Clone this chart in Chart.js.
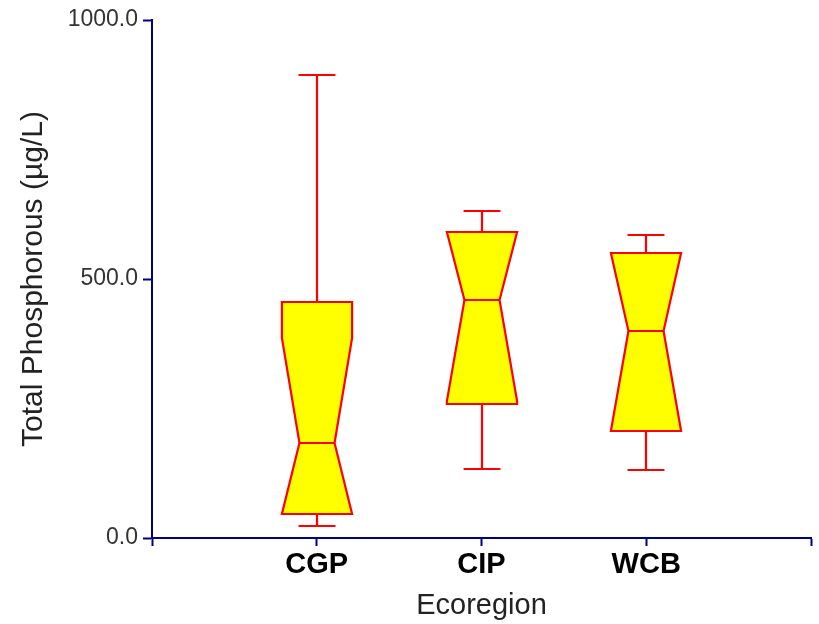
<!DOCTYPE html>
<html>
<head>
<meta charset="utf-8">
<script src="https://cdn.jsdelivr.net/npm/chart.js@4"></script>
<style>
  html, body { margin: 0; padding: 0; background: #ffffff; }
  #wrap { width: 819px; height: 624px; }
</style>
</head>
<body>
<div id="wrap"><canvas id="chart" width="819" height="624"></canvas></div>
<script>
// Ecoregions
const categories = ['CGP', 'CIP', 'WCB']
const mins = [23, 134, 132]
const q1s = [46, 258, 206]
const medians = [183, 460, 399]
const q3s = [455, 590, 550]
const maxs = [893, 632, 585]
// notch bounds (clipped at the box edges when they go past it)
const notchLow = [46, 265, 206]
const notchHigh = [387, 590, 550]
const yTicks = [0, 500, 1000]

const boxFill = '#ffff00'
const boxLine = '#ff0000'
const axisColor = '#000080'

// draws the notched boxes + whiskers using the chart's scales
const notchedBoxes = {
  id: 'notchedBoxes',
  afterDatasetsDraw(chart) {
    const { ctx, scales: { x, y } } = chart
    const step = x.getPixelForValue(1) - x.getPixelForValue(0)
    const hw = step * 0.213   // half box width
    const nw = hw * 0.5       // half width at the median
    const cw = step * 0.112   // half cap width

    ctx.save()
    ctx.lineWidth = 2.2
    ctx.strokeStyle = boxLine
    ctx.lineJoin = 'miter'

    categories.forEach((cat, i) => {
      const cx = Math.round(x.getPixelForValue(i + 1))
      const yMin = Math.round(y.getPixelForValue(mins[i]))
      const yQ1 = Math.round(y.getPixelForValue(q1s[i]))
      const yMed = Math.round(y.getPixelForValue(medians[i]))
      const yQ3 = Math.round(y.getPixelForValue(q3s[i]))
      const yMax = Math.round(y.getPixelForValue(maxs[i]))
      const yNL = Math.round(y.getPixelForValue(Math.max(q1s[i], notchLow[i])))
      const yNH = Math.round(y.getPixelForValue(Math.min(q3s[i], notchHigh[i])))

      // whiskers
      ctx.beginPath()
      ctx.moveTo(cx, yQ3); ctx.lineTo(cx, yMax)
      ctx.moveTo(cx - cw, yMax); ctx.lineTo(cx + cw, yMax)
      ctx.moveTo(cx, yQ1); ctx.lineTo(cx, yMin)
      ctx.moveTo(cx - cw, yMin); ctx.lineTo(cx + cw, yMin)
      ctx.stroke()

      // notched box
      ctx.beginPath()
      ctx.moveTo(cx - hw, yQ3)
      ctx.lineTo(cx + hw, yQ3)
      ctx.lineTo(cx + hw, yNH)
      ctx.lineTo(cx + nw, yMed)
      ctx.lineTo(cx + hw, yNL)
      ctx.lineTo(cx + hw, yQ1)
      ctx.lineTo(cx - hw, yQ1)
      ctx.lineTo(cx - hw, yNL)
      ctx.lineTo(cx - nw, yMed)
      ctx.lineTo(cx - hw, yNH)
      ctx.closePath()
      ctx.fillStyle = boxFill
      ctx.fill()
      ctx.stroke()

      // median
      ctx.beginPath()
      ctx.moveTo(cx - nw, yMed); ctx.lineTo(cx + nw, yMed)
      ctx.stroke()
    })
    ctx.restore()
  }
}

const ctx = document.getElementById('chart').getContext('2d')

new Chart(ctx, {
  type: 'scatter',
  data: {
    datasets: [{
      data: categories.map((c, i) => ({ x: i + 1, y: medians[i] })),
      pointRadius: 0,
      showLine: false
    }]
  },
  options: {
    responsive: false,
    animation: false,
    layout: { padding: { top: 20, right: 8, left: 0, bottom: 0 } },
    plugins: {
      legend: { display: false },
      tooltip: { enabled: false }
    },
    scales: {
      x: {
        type: 'linear',
        min: 0,
        max: categories.length + 1,
        afterBuildTicks: (scale) => {
          scale.ticks = [0, 1, 2, 3, 4].map(v => ({ value: v }))
        },
        afterFit: (scale) => { scale.height = 86 },
        grid: {
          display: true,
          drawOnChartArea: false,
          drawTicks: true,
          tickLength: 8,
          tickWidth: 2,
          tickColor: axisColor
        },
        border: { display: true, color: axisColor, width: 2 },
        ticks: {
          padding: 2,
          color: '#000000',
          font: { family: 'Arial, "Liberation Sans", sans-serif', size: 29, weight: 'bold' },
          callback: (v) => categories[v - 1] || ''
        },
        title: {
          display: true,
          text: 'Ecoregion',
          color: '#222222',
          padding: { top: 0, bottom: 1 },
          font: { family: 'Arial, "Liberation Sans", sans-serif', size: 29 }
        }
      },
      y: {
        min: 0,
        max: 1000,
        afterBuildTicks: (scale) => {
          scale.ticks = yTicks.map(v => ({ value: v }))
        },
        afterFit: (scale) => { scale.width = 152 },
        grid: {
          display: true,
          drawOnChartArea: false,
          drawTicks: true,
          tickLength: 9,
          tickWidth: 2,
          tickColor: axisColor
        },
        border: { display: true, color: axisColor, width: 2 },
        ticks: {
          padding: 5,
          color: '#333333',
          font: { family: 'Arial, "Liberation Sans", sans-serif', size: 23 },
          callback: (v) => v.toFixed(1)
        },
        title: {
          display: true,
          text: 'Total Phosphorous (µg/L)',
          color: '#222222',
          padding: { top: 16, bottom: 0 },
          font: { family: 'Arial, "Liberation Sans", sans-serif', size: 30 }
        }
      }
    }
  },
  plugins: [notchedBoxes]
})
</script>
</body>
</html>
